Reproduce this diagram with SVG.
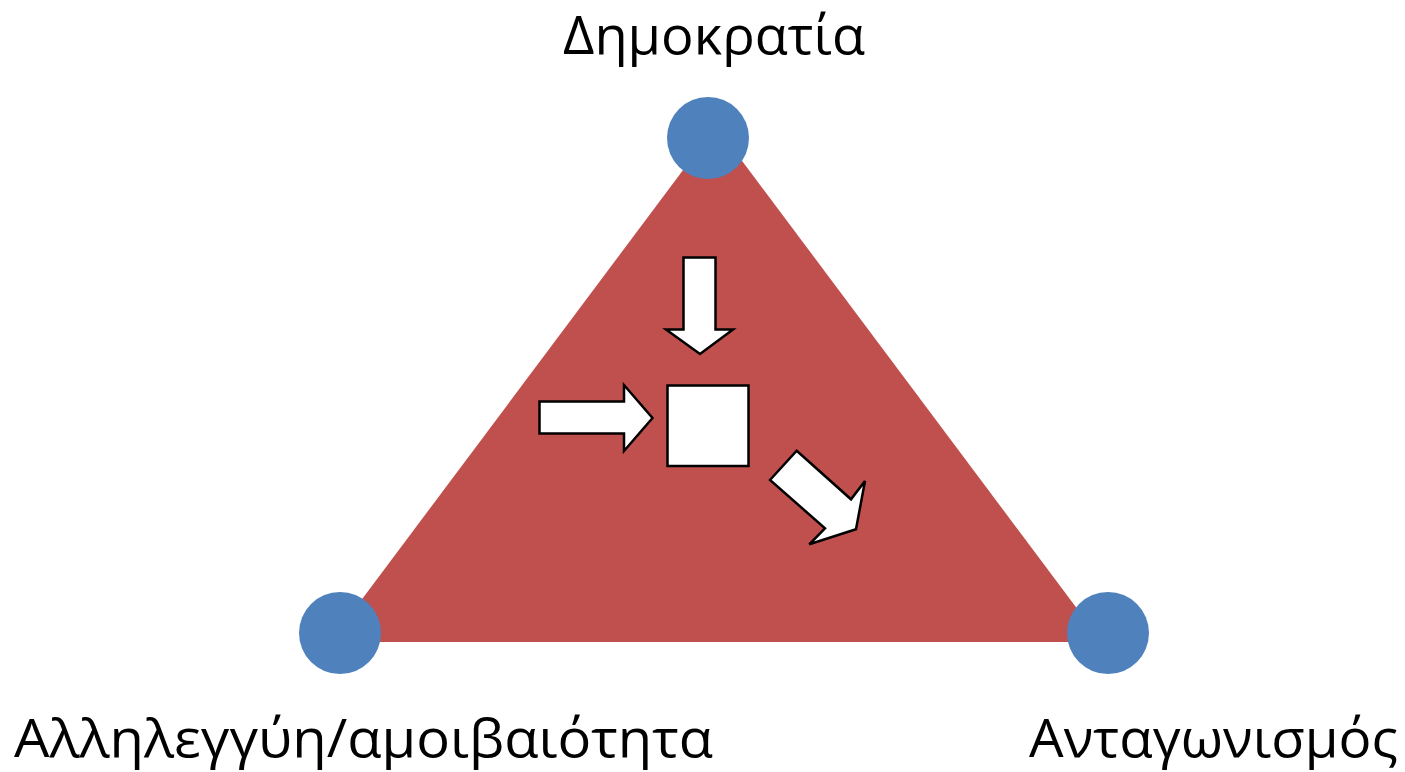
<svg xmlns="http://www.w3.org/2000/svg" width="1405" height="772" viewBox="0 0 1405 772">
<style>
.lbl{font-family:"Open Sans","Liberation Sans",sans-serif;font-size:53px;fill:#000}
.arr{fill:#fff;stroke:#000;stroke-width:2.5;stroke-linejoin:miter}
.dot{fill:#4F81BD}
</style>
<rect width="1405" height="772" fill="#fff"/>
<g id="triangle"><polygon points="716,126 330,642 1102,642" fill="#C0504D"/></g>
<g id="connectors">
<polygon class="arr" points="683.5,257.5 715.5,257.5 715.5,329.5 733,329.5 700,354 666,329.5 683.5,329.5"/>
<polygon class="arr" points="539.5,401.5 624,401.5 624,385 652.5,418 624,451 624,433.5 539.5,433.5"/>
<polygon class="arr" points="770,480 796.7,450.7 851,499.3 865,481 856,529.3 809.3,544.3 825,528.3"/>
</g>
<g id="center"><rect class="arr" x="667.5" y="385.5" width="81" height="80.5"/></g>
<g id="node-democracy"><circle class="dot" cx="708" cy="138" r="41"/><text class="lbl" x="714" y="54" text-anchor="middle" textLength="302" lengthAdjust="spacingAndGlyphs">Δημοκρατία</text></g>
<g id="node-solidarity"><circle class="dot" cx="340" cy="633" r="41"/><text class="lbl" x="14" y="757" textLength="699" lengthAdjust="spacingAndGlyphs">Αλληλεγγύη/αμοιβαιότητα</text></g>
<g id="node-competition"><circle class="dot" cx="1108" cy="633" r="41"/><text class="lbl" x="1029" y="757" textLength="369" lengthAdjust="spacingAndGlyphs">Ανταγωνισμός</text></g>
</svg>
